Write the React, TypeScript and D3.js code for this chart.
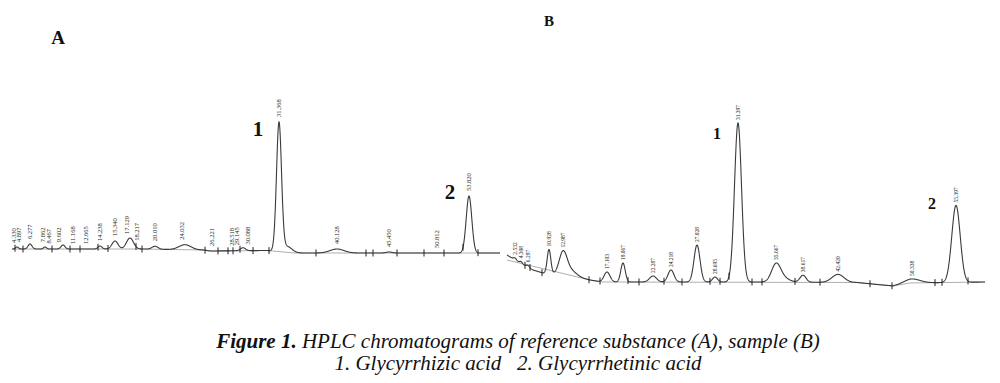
import React from "react";
import * as d3 from "d3";

// ---------- Panel A : reference substance ----------
// peaks: retention position (min), height (mAU), sigma (min)
const peaksA = [
  { t: 0.5, h: 2, s: 0.15 },
  { t: 1.8, h: 5, s: 0.2 },
  { t: 3.3, h: 2, s: 0.15 },
  { t: 5.1, h: 4, s: 0.2 },
  { t: 8.8, h: 3, s: 0.2 },
  { t: 10.3, h: 8, s: 0.3 },
  { t: 11.8, h: 11, s: 0.35 },
  { t: 14.3, h: 3, s: 0.3 },
  { t: 17.3, h: 5, s: 0.6 },
  { t: 23.1, h: 3, s: 0.25 },
  { t: 26.7, h: 128, s: 0.25 },
  { t: 27.5, h: 6, s: 0.5 },
  { t: 32.5, h: 4, s: 0.7 },
  { t: 37.7, h: 1, s: 0.3 },
  { t: 45.7, h: 57, s: 0.28 },
];
const driftA: [number, number][] = [
  [0, 4], [12.8, 4], [19.2, 3], [19.8, 2], [25.5, 2.5], [28.2, 0], [48.8, 0],
];
const ticksA = [0.3, 1.1, 4.0, 5.8, 6.8, 8.6, 9.6, 12.4, 13.0, 19.3, 20.6, 21.6, 22.1, 22.8, 24.1, 25.7, 30.4, 35.4, 36.1, 38.5, 41.2, 43.2, 45.1, 46.6];
const labelsA = [
  { t: 0.2, text: "4.330" }, { t: 0.7, text: "4.897" }, { t: 1.8, text: "6.277" },
  { t: 3.1, text: "7.862" }, { t: 3.7, text: "8.467" }, { t: 4.7, text: "9.602" },
  { t: 6.1, text: "11.168" }, { t: 7.4, text: "12.665" }, { t: 8.8, text: "14.238" },
  { t: 10.3, text: "15.340" }, { t: 11.5, text: "17.129" }, { t: 12.5, text: "18.217" },
  { t: 14.3, text: "20.010" }, { t: 17.0, text: "24.032" }, { t: 20.0, text: "26.221" },
  { t: 22.0, text: "28.518" }, { t: 22.5, text: "29.145" }, { t: 23.6, text: "30.088" },
  { t: 26.7, text: "31.368" }, { t: 32.5, text: "40.128" }, { t: 37.7, text: "45.450" },
  { t: 42.5, text: "50.812" }, { t: 45.7, text: "53.820" },
];
const compoundsA = [{ t: 24.6, v: 124, text: "1" }, { t: 43.8, v: 61, text: "2" }];

// ---------- Panel B : sample ----------
const peaksB = [
  { t: 0.8, h: 2, s: 0.15 },
  { t: 1.4, h: 2, s: 0.15 },
  { t: 2.1, h: 2, s: 0.15 },
  { t: 4.2, h: 24, s: 0.18 },
  { t: 5.6, h: 21, s: 0.38 },
  { t: 6.3, h: 6, s: 0.6 },
  { t: 10.0, h: 10, s: 0.3 },
  { t: 11.6, h: 19, s: 0.22 },
  { t: 14.6, h: 6, s: 0.35 },
  { t: 16.4, h: 12, s: 0.3 },
  { t: 19.0, h: 37, s: 0.3 },
  { t: 20.8, h: 5, s: 0.25 },
  { t: 23.1, h: 159, s: 0.35 },
  { t: 26.9, h: 17, s: 0.45 },
  { t: 27.6, h: 4, s: 0.6 },
  { t: 29.6, h: 7, s: 0.3 },
  { t: 33.1, h: 8, s: 0.6 },
  { t: 40.5, h: 4, s: 0.8 },
  { t: 44.9, h: 77, s: 0.42 },
];
const driftB: [number, number][] = [
  [0, 30], [1.3, 22], [2.6, 15], [3.6, 12], [6, 10], [8.3, 5], [9.5, 3], [17, 3],
  [26, 3], [35, 2.5], [38.6, -1], [40.3, 2], [47.8, 3],
];
const integB: [number, number][] = [
  [0, 25], [8.3, 5], [9.5, 3], [35, 2.5], [38.6, -1], [40.3, 2], [47.8, 3],
];
const ticksB = [1.8, 2.3, 3.5, 8.2, 9.3, 12.1, 13.2, 15.7, 17.5, 20.3, 21.3, 22.2, 24.5, 25.5, 28.8, 31.3, 36.3, 38.5, 42.8, 43.5, 46.1];
const labelsB = [
  { t: 0.8, text: "2.532" }, { t: 1.4, text: "4.308" }, { t: 2.1, text: "6.297" },
  { t: 4.2, text: "10.928" }, { t: 5.6, text: "12.987" }, { t: 10.0, text: "17.103" },
  { t: 11.6, text: "19.067" }, { t: 14.6, text: "22.287" }, { t: 16.4, text: "24.218" },
  { t: 19.0, text: "27.028" }, { t: 20.8, text: "28.695" }, { t: 23.1, text: "31.397" },
  { t: 26.9, text: "35.667" }, { t: 29.6, text: "38.617" }, { t: 33.1, text: "42.420" },
  { t: 40.5, text: "50.338" }, { t: 44.9, text: "55.397" },
];
const compoundsB = [{ t: 21.0, v: 152, text: "1" }, { t: 42.5, v: 82, text: "2" }];

const captionLine1Bold = "Figure 1.";
const captionLine1 = " HPLC chromatograms of reference substance (A), sample (B)";
const captionLine2 = "1. Glycyrrhizic acid   2. Glycyrrhetinic acid";

type Peak = { t: number; h: number; s: number };

function makeSignal(peaks: Peak[], drift: [number, number][]) {
  const base = d3.scaleLinear().domain(drift.map((d) => d[0])).range(drift.map((d) => d[1]));
  return (t: number) =>
    base(t) + d3.sum(peaks, (p) => p.h * Math.exp(-0.5 * ((t - p.t) / p.s) ** 2));
}

function Chromatogram(props: {
  peaks: Peak[];
  drift: [number, number][];
  integ: [number, number][];
  ticks: number[];
  labels: { t: number; text: string }[];
  compounds: { t: number; v: number; text: string }[];
  x: d3.ScaleLinear<number, number>;
  y: d3.ScaleLinear<number, number>;
  labelGap: number;
  labelSize: number;
  compoundSize: number;
}) {
  const { peaks, drift, integ, ticks, labels, compounds, x, y, labelGap, labelSize, compoundSize } = props;
  const sig = makeSignal(peaks, drift);
  const [t0, t1] = x.domain();
  const ts = d3.range(t0, t1 + 1e-9, 0.02);
  const line = d3.line<number>().x((t) => x(t)).y((t) => y(sig(t)));
  const bline = d3.line<[number, number]>().x((d) => x(d[0])).y((d) => y(d[1]));
  const localMax = (t: number) => {
    let m = -Infinity;
    for (let u = t - 0.15; u <= t + 0.15; u += 0.02) m = Math.max(m, sig(u));
    return m;
  };
  return (
    <g>
      <path d={bline(integ) || ""} fill="none" stroke="#9a9a9a" strokeWidth={0.8} />
      <path d={line(ts) || ""} fill="none" stroke="#3a3a3a" strokeWidth={1.1} />
      {ticks.map((t, i) => (
        <line key={i} x1={x(t)} x2={x(t)} y1={y(sig(t)) - 3.5} y2={y(sig(t)) + 3.5} stroke="#222" strokeWidth={1} />
      ))}
      {labels.map((l, i) => {
        const px = x(l.t);
        const py = y(localMax(l.t)) - labelGap;
        return (
          <text key={i} transform={`translate(${px + labelSize * 0.35},${py}) rotate(-90)`}
            fontFamily="Liberation Serif" fontSize={labelSize} fill="#222">{l.text}</text>
        );
      })}
      {compounds.map((c, i) => (
        <text key={i} x={x(c.t)} y={y(c.v)} textAnchor="middle" dominantBaseline="central"
          fontFamily="Liberation Serif" fontWeight="bold" fontSize={compoundSize} fill="#111">{c.text}</text>
      ))}
    </g>
  );
}

export default function App() {
  const xA = d3.scaleLinear().domain([0, 48.8]).range([12, 500]);
  const yA = d3.scaleLinear().domain([0, 135]).range([253, 118]);
  const xB = d3.scaleLinear().domain([0, 47.8]).range([507, 985]);
  const yB = d3.scaleLinear().domain([0, 160]).range([285, 125]);
  return (
    <svg width={1000} height={383} style={{ position: "absolute", left: 0, top: 0, background: "#fff" }}>
      <rect width={1000} height={383} fill="#fff" />
      <text x={58} y={44} textAnchor="middle" fontFamily="Liberation Serif" fontWeight="bold" fontSize={19} fill="#111">A</text>
      <text x={549} y={26} textAnchor="middle" fontFamily="Liberation Serif" fontWeight="bold" fontSize={15} fill="#111">B</text>
      <Chromatogram peaks={peaksA} drift={driftA} integ={driftA} ticks={ticksA} labels={labelsA}
        compounds={compoundsA} x={xA} y={yA} labelGap={5} labelSize={6.5} compoundSize={21} />
      <Chromatogram peaks={peaksB} drift={driftB} integ={integB} ticks={ticksB} labels={labelsB}
        compounds={compoundsB} x={xB} y={yB} labelGap={3} labelSize={5.5} compoundSize={16} />
      <text x={518} y={348} textAnchor="middle" fontFamily="Liberation Serif" fontStyle="italic" fontSize={21} fill="#111">
        <tspan fontWeight="bold">{captionLine1Bold}</tspan>
        <tspan>{captionLine1}</tspan>
      </text>
      <text x={518} y={370} textAnchor="middle" fontFamily="Liberation Serif" fontStyle="italic" fontSize={21} fill="#111" xmlSpace="preserve">
        {captionLine2}
      </text>
    </svg>
  );
}
